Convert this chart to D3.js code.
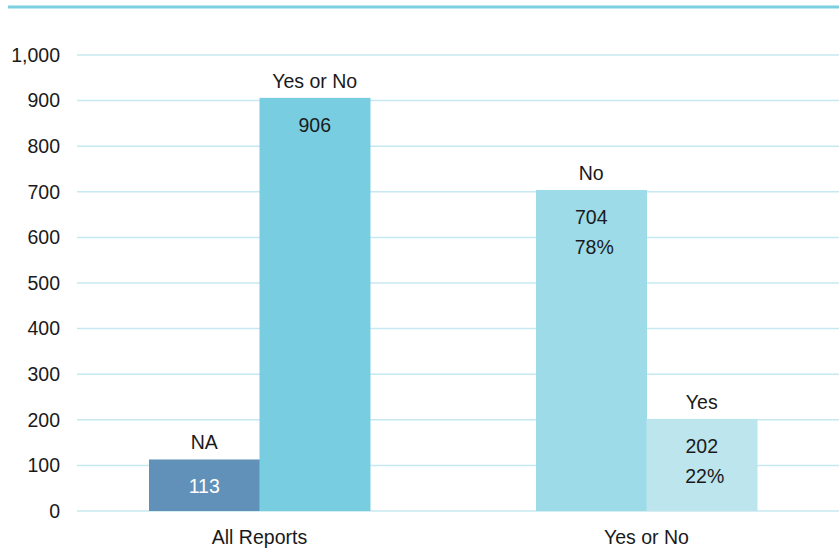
<!DOCTYPE html>
<html>
<head>
<meta charset="utf-8">
<script src="https://cdn.jsdelivr.net/npm/d3@7"></script>
<style>
  body { margin: 0; background: #fff; }
  text { font-family: "Liberation Sans", Arial, sans-serif; }
</style>
</head>
<body>
<div id="chart"></div>
<script>
// Chart data.
const groups = ["All Reports", "Yes or No"];
const seriesNames = [["NA", "Yes or No"], ["No", "Yes"]];
const seriesValues = [[113, 906], [704, 202]];
const seriesPercents = [[null, null], ["78%", "22%"]];
const barColors = [["#6191b9", "#78cee0"], ["#9ddbe8", "#bce5ed"]];
const valueColors = [["#ffffff", "#1a1a1a"], ["#1a1a1a", "#1a1a1a"]];
const yTicks = [0, 100, 200, 300, 400, 500, 600, 700, 800, 900, 1000];

const width = 839;
const height = 548;
const margin = { top: 55, right: 10, bottom: 37, left: 77 };
const fontSize = 19.5;

const svg = d3.select("#chart").append("svg")
  .attr("width", width)
  .attr("height", height);

// Top rule.
svg.append("line")
  .attr("x1", 8).attr("x2", width)
  .attr("y1", 7).attr("y2", 7)
  .attr("stroke", "#7ccfe0")
  .attr("stroke-width", 3);

const y = d3.scaleLinear()
  .domain([0, 1000])
  .range([height - margin.bottom, margin.top]);

const x0 = d3.scaleBand()
  .domain(groups)
  .range([margin.left, width - margin.right])
  .paddingInner(0.429)
  .paddingOuter(0.186);

const x1 = d3.scaleBand()
  .domain([0, 1])
  .range([0, x0.bandwidth()]);

// Gridlines.
svg.append("g")
  .selectAll("line")
  .data(yTicks)
  .join("line")
  .attr("x1", margin.left).attr("x2", width)
  .attr("y1", (d) => y(d)).attr("y2", (d) => y(d))
  .attr("stroke", "#c6e9f1")
  .attr("stroke-width", 1.5);

// Y axis labels.
const fmt = d3.format(",");
svg.append("g")
  .selectAll("text")
  .data(yTicks)
  .join("text")
  .attr("x", 60)
  .attr("y", (d) => y(d))
  .attr("dy", "0.35em")
  .attr("text-anchor", "end")
  .attr("font-size", fontSize)
  .attr("fill", "#1a1a1a")
  .text((d) => fmt(d));

// Bars.
groups.forEach((g, gi) => {
  const gg = svg.append("g").attr("transform", `translate(${x0(g)},0)`);
  const bars = seriesValues[gi].map((v, i) => ({
    v, i,
    name: seriesNames[gi][i],
    pct: seriesPercents[gi][i],
    color: barColors[gi][i],
    textColor: valueColors[gi][i],
  }));

  gg.selectAll("rect")
    .data(bars)
    .join("rect")
    .attr("x", (d) => x1(d.i))
    .attr("width", x1.bandwidth() + 0.5)
    .attr("y", (d) => y(d.v))
    .attr("height", (d) => y(0) - y(d.v))
    .attr("fill", (d) => d.color);

  // Series name above bar.
  gg.selectAll(".name")
    .data(bars)
    .join("text")
    .attr("class", "name")
    .attr("x", (d) => x1(d.i) + x1.bandwidth() / 2)
    .attr("y", (d) => y(d.v) - 17)
    .attr("dy", "0.35em")
    .attr("text-anchor", "middle")
    .attr("font-size", fontSize)
    .attr("fill", "#1a1a1a")
    .text((d) => d.name);

  // Value inside bar.
  gg.selectAll(".val")
    .data(bars)
    .join("text")
    .attr("class", "val")
    .attr("x", (d) => x1(d.i) + x1.bandwidth() / 2)
    .attr("y", (d) => y(d.v) + 27)
    .attr("dy", "0.35em")
    .attr("text-anchor", "middle")
    .attr("font-size", fontSize)
    .attr("fill", (d) => d.textColor)
    .text((d) => d.v);

  gg.selectAll(".pct")
    .data(bars.filter((d) => d.pct))
    .join("text")
    .attr("class", "pct")
    .attr("x", (d) => x1(d.i) + x1.bandwidth() / 2 + 3)
    .attr("y", (d) => y(d.v) + 57)
    .attr("dy", "0.35em")
    .attr("text-anchor", "middle")
    .attr("font-size", fontSize)
    .attr("fill", (d) => d.textColor)
    .text((d) => d.pct);

  // Category label.
  gg.append("text")
    .attr("x", x0.bandwidth() / 2)
    .attr("y", 537)
    .attr("dy", "0.35em")
    .attr("text-anchor", "middle")
    .attr("font-size", fontSize)
    .attr("fill", "#1a1a1a")
    .text(g);
});
</script>
</body>
</html>
